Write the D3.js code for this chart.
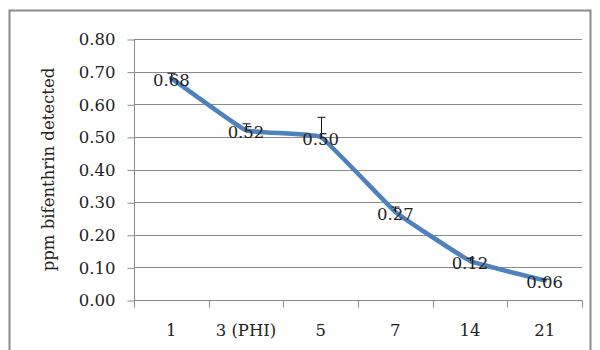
<!DOCTYPE html>
<html>
<head>
<meta charset="utf-8">
<script src="https://cdn.jsdelivr.net/npm/d3@7/dist/d3.min.js"></script>
<style>
  html, body { margin: 0; padding: 0; background: #fff; }
  svg { display: block; }
  text { font-family: "DejaVu Serif", serif; fill: #222; }
</style>
</head>
<body>
<svg id="chart" width="600" height="350"></svg>
<script>
// Days after treatment
const categories = ["1", "3 (PHI)", "5", "7", "14", "21"];
// Mean residue (ppm)
const values = [0.68, 0.52, 0.50, 0.27, 0.12, 0.06];
// Upper error (ppm)
const errors = [0.015, 0.02, 0.06, 0.015, 0.008, 0.004];
// Y-axis ticks
const yTicks = [0, 0.1, 0.2, 0.3, 0.4, 0.5, 0.6, 0.7, 0.8];

const svg = d3.select("#chart");
const plot = { left: 134, right: 582, top: 39, bottom: 300 };

// Chart frame
svg.append("rect")
  .attr("x", 9.5).attr("y", 10.5)
  .attr("width", 581).attr("height", 360)
  .attr("fill", "none").attr("stroke", "#8c8c8c").attr("stroke-width", 2);

const x = d3.scaleBand().domain(categories).range([plot.left, plot.right]).padding(0);
const y = d3.scaleLinear().domain([0, 0.8]).range([plot.bottom, plot.top]);

// Horizontal gridlines
svg.append("g")
  .selectAll("line").data(yTicks.slice(1)).join("line")
  .attr("x1", plot.left).attr("x2", plot.right)
  .attr("y1", d => Math.round(y(d)) + 0.5).attr("y2", d => Math.round(y(d)) + 0.5)
  .attr("stroke", "#8a8a8a").attr("stroke-width", 1);

// Y axis
const yAxis = d3.axisLeft(y).tickValues(yTicks).tickFormat(d3.format(".2f"))
  .tickSize(7).tickPadding(12);
const gy = svg.append("g").attr("transform", `translate(${plot.left + 0.5},0.5)`).call(yAxis);
gy.select(".domain").attr("stroke", "#8a8a8a").attr("d", `M0,${plot.top}V${plot.bottom + 7}`);
gy.selectAll(".tick line").attr("stroke", "#8a8a8a");
gy.selectAll(".tick text").style("font-size", "16.5px").attr("fill", "#222")
  .attr("font-family", "DejaVu Serif");

// X axis with ticks at category boundaries
const gx = svg.append("g").attr("transform", `translate(0,${plot.bottom + 0.5})`);
gx.append("line").attr("x1", plot.left).attr("x2", plot.right + 0.5)
  .attr("stroke", "#8a8a8a");
gx.selectAll("line.tk").data(categories).join("line").attr("class", "tk")
  .attr("x1", d => Math.round(x(d) + x.bandwidth()) + 0.5)
  .attr("x2", d => Math.round(x(d) + x.bandwidth()) + 0.5)
  .attr("y1", 0).attr("y2", 7).attr("stroke", "#8a8a8a");
gx.selectAll("text").data(categories).join("text")
  .attr("x", d => x(d) + x.bandwidth() / 2)
  .attr("y", 35)
  .attr("text-anchor", "middle")
  .style("font-size", "16.5px")
  .text(d => d);

// Y axis title
svg.append("text")
  .attr("transform", `translate(54,${(plot.top + plot.bottom) / 2}) rotate(-90)`)
  .attr("text-anchor", "middle")
  .style("font-size", "16.5px")
  .text("ppm bifenthrin detected");

const cx = d => x(d) + x.bandwidth() / 2;

// Series line, lightly smoothed
const line = d3.line()
  .x((d, i) => cx(categories[i]))
  .y(d => y(d))
  .curve(d3.curveCardinal.tension(0.75));
svg.append("path").datum(values)
  .attr("d", line)
  .attr("fill", "none")
  .attr("stroke", "#4f81bd")
  .attr("stroke-width", 4.5)
  .attr("stroke-linecap", "round")
  .attr("stroke-linejoin", "round");

// Upper error bars
const eb = svg.append("g").attr("stroke", "#111").attr("stroke-width", 1);
values.forEach((v, i) => {
  const px = Math.round(cx(categories[i])) + 0.5;
  const top = y(v + errors[i]);
  eb.append("line").attr("x1", px).attr("x2", px).attr("y1", y(v)).attr("y2", top);
  eb.append("line").attr("x1", px - 4).attr("x2", px + 4).attr("y1", top).attr("y2", top);
});

// Data labels
svg.append("g").selectAll("text").data(values).join("text")
  .attr("x", (d, i) => cx(categories[i]))
  .attr("y", d => y(d) + 8)
  .attr("text-anchor", "middle")
  .style("font-size", "16.5px")
  .text(d => d3.format(".2f")(d));
</script>
</body>
</html>
